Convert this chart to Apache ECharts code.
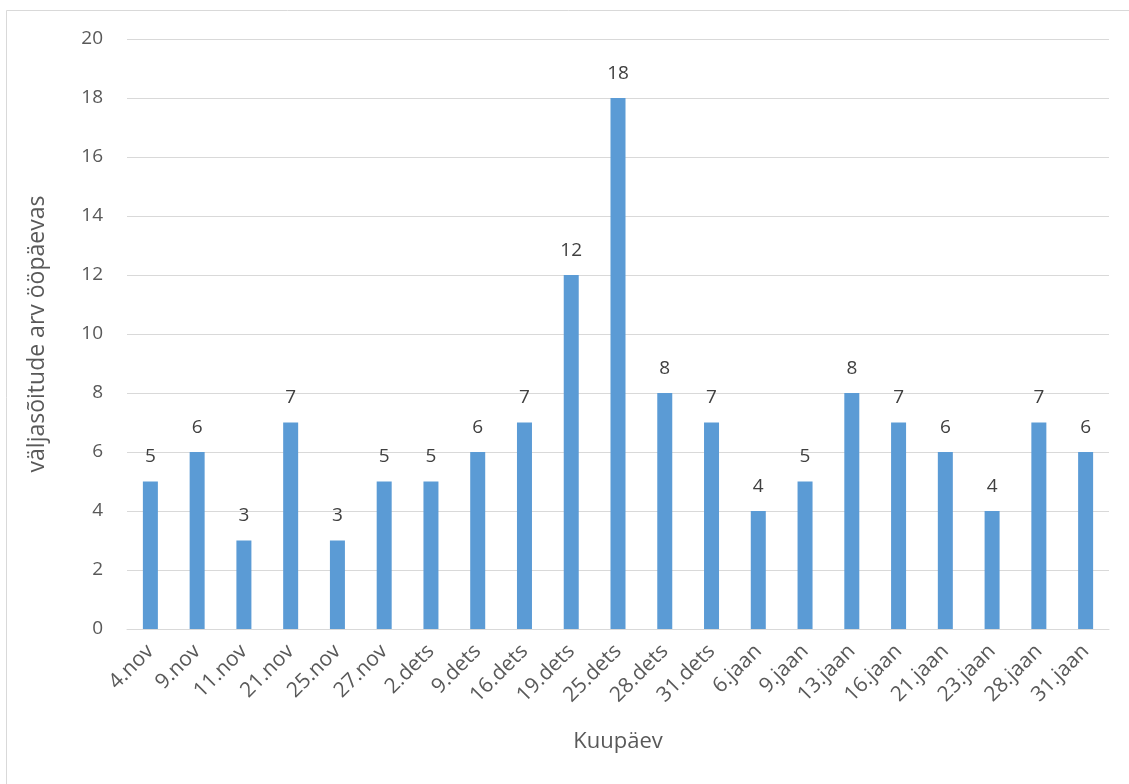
<!DOCTYPE html>
<html>
<head>
<meta charset="utf-8">
<script src="https://cdn.jsdelivr.net/npm/echarts@6/dist/echarts.min.js"></script>
<style>
  html, body { margin: 0; padding: 0; background: #fff; }
  #chart { width: 1129px; height: 784px; }
</style>
</head>
<body>
<div id="chart"></div>
<script>
// Departures per day by date
const categories = ['4.nov', '9.nov', '11.nov', '21.nov', '25.nov', '27.nov', '2.dets', '9.dets', '16.dets',
  '19.dets', '25.dets', '28.dets', '31.dets', '6.jaan', '9.jaan', '13.jaan', '16.jaan', '21.jaan', '23.jaan',
  '28.jaan', '31.jaan'];
const values = [5, 6, 3, 7, 3, 5, 5, 6, 7, 12, 18, 8, 7, 4, 5, 8, 7, 6, 4, 7, 6];
const yTicks = [0, 2, 4, 6, 8, 10, 12, 14, 16, 18, 20];

const font = '"Open Sans", "Liberation Sans", sans-serif';
const chart = echarts.init(document.getElementById('chart'));
chart.setOption({
  animation: false,
  backgroundColor: '#fff',
  graphic: [{
    type: 'rect',
    shape: { x: 6.5, y: 10.5, width: 1200, height: 900 },
    style: { fill: 'none', stroke: '#d9d9d9', lineWidth: 1 },
    silent: true
  }],
  grid: { left: 127, right: 20, top: 39, bottom: 155, containLabel: false },
  xAxis: {
    type: 'category',
    data: categories,
    name: 'Kuupäev',
    nameLocation: 'middle',
    nameGap: 102,
    nameTextStyle: { fontFamily: font, fontSize: 22, color: '#595959' },
    axisLine: { lineStyle: { color: '#d9d9d9', width: 1 } },
    axisTick: { show: false },
    axisLabel: { rotate: 45, margin: 19, fontFamily: font, fontSize: 21, color: '#595959', interval: 0 }
  },
  yAxis: {
    type: 'value',
    min: yTicks[0],
    max: yTicks[yTicks.length - 1],
    interval: 2,
    name: 'väljasõitude arv ööpäevas',
    nameLocation: 'middle',
    nameGap: 78,
    nameRotate: 90,
    nameTextStyle: { fontFamily: font, fontSize: 23, color: '#595959' },
    axisLine: { show: false },
    axisTick: { show: false },
    axisLabel: { margin: 24, fontFamily: font, fontSize: 19, color: '#595959' },
    splitLine: { lineStyle: { color: '#d9d9d9', width: 1 } }
  },
  series: [{
    type: 'bar',
    data: values,
    barWidth: 15,
    itemStyle: { color: '#5b9bd5' },
    label: {
      show: true,
      position: 'top',
      distance: 15,
      fontFamily: font,
      fontSize: 19,
      color: '#404040'
    }
  }]
});
</script>
</body>
</html>
